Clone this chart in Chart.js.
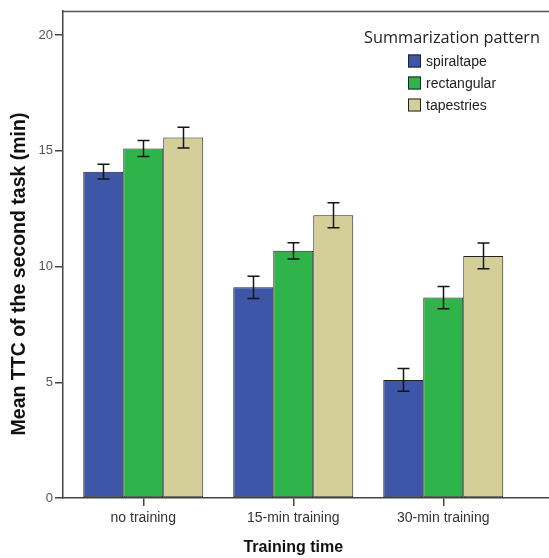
<!DOCTYPE html>
<html>
<head>
<meta charset="utf-8">
<script src="https://cdn.jsdelivr.net/npm/chart.js@4.4.1/dist/chart.umd.min.js"></script>
<style>
  html, body { margin: 0; padding: 0; background: #fff; }
  #wrap { width: 549px; height: 558px; position: relative; }
</style>
</head>
<body>
<div id="wrap"><canvas id="c"></canvas></div>
<script>
// Mean time-to-complete of the second task, by training time and summarization pattern
const categories = ['no training', '15-min training', '30-min training'];
const seriesNames = ['spiraltape', 'rectangular', 'tapestries'];
const spiraltape = [14.1, 9.1, 5.1];
const rectangular = [15.1, 10.68, 8.66];
const tapestries = [15.57, 12.22, 10.46];
// half-widths of the error bars
const spiraltapeErr = [0.32, 0.48, 0.49];
const rectangularErr = [0.35, 0.35, 0.48];
const tapestriesErr = [0.45, 0.54, 0.56];
const yTicks = [0, 5, 10, 15, 20];

const xTitle = 'Training time';
const yTitle = 'Mean TTC of the second task (min)';
const legendTitle = 'Summarization pattern';

const colors = ['#3D56A8', '#2FB34B', '#D4CE98'];
const values = [spiraltape, rectangular, tapestries];
const errors = [spiraltapeErr, rectangularErr, tapestriesErr];

const datasets = seriesNames.map((name, s) => ({
  label: name,
  data: values[s].map((v, i) => ({ x: i, y: v })),
  errors: errors[s],
  backgroundColor: colors[s],
  borderColor: '#222',
  borderWidth: 1,
  borderSkipped: false,
  categoryPercentage: 0.8,
  barPercentage: 1.0
}));

const FONT = '"Liberation Sans", Arial, sans-serif';

const decorations = {
  id: 'decorations',
  afterDatasetsDraw(chart) {
    const ctx = chart.ctx;
    const ys = chart.scales.y;
    ctx.save();
    ctx.strokeStyle = '#151515';
    ctx.lineWidth = 1.5;
    chart.data.datasets.forEach((ds, di) => {
      const meta = chart.getDatasetMeta(di);
      meta.data.forEach((el, j) => {
        const v = ds.data[j].y, e = ds.errors[j];
        const x = Math.round(el.x) + 0.5;
        const y1 = ys.getPixelForValue(v + e);
        const y2 = ys.getPixelForValue(v - e);
        ctx.beginPath();
        ctx.moveTo(x, y1); ctx.lineTo(x, y2);
        ctx.moveTo(x - 6, y1); ctx.lineTo(x + 6, y1);
        ctx.moveTo(x - 6, y2); ctx.lineTo(x + 6, y2);
        ctx.stroke();
      });
    });
    ctx.restore();
  },
  afterDraw(chart) {
    const ctx = chart.ctx;
    const a = chart.chartArea;
    const xs = chart.scales.x;
    ctx.save();
    // top frame line
    ctx.strokeStyle = '#555';
    ctx.lineWidth = 1.5;
    ctx.beginPath();
    ctx.moveTo(a.left, a.top + 0.5);
    ctx.lineTo(chart.width, a.top + 0.5);
    ctx.stroke();

    // axis titles
    ctx.fillStyle = '#111';
    ctx.textAlign = 'center';
    ctx.textBaseline = 'middle';
    ctx.font = 'bold 16px ' + FONT;
    ctx.fillText(xTitle, xs.getPixelForValue(1), 548);
    ctx.save();
    ctx.translate(20, 274);
    ctx.rotate(-Math.PI / 2);
    ctx.font = 'bold 19.5px ' + FONT;
    ctx.fillText(yTitle, 0, 0);
    ctx.restore();

    // legend
    ctx.fillStyle = '#222';
    ctx.font = '16.3px "Open Sans", sans-serif';
    ctx.textAlign = 'center';
    ctx.fillText(legendTitle, 452, 38);
    ctx.font = '14px ' + FONT;
    ctx.textAlign = 'left';
    chart.data.datasets.forEach((ds, i) => {
      const cy = 61 + i * 22;
      ctx.fillStyle = ds.backgroundColor;
      ctx.fillRect(408, cy - 6.5, 13, 13);
      ctx.strokeStyle = '#222';
      ctx.lineWidth = 1;
      ctx.strokeRect(408.5, cy - 6, 12, 12);
      ctx.fillStyle = '#222';
      ctx.fillText(ds.label, 426, cy + 1);
    });
    ctx.restore();
  }
};

new Chart(document.getElementById('c'), {
  type: 'bar',
  data: { datasets },
  options: {
    responsive: true,
    maintainAspectRatio: false,
    animation: false,
    layout: { padding: { left: 0, top: 11, right: 0, bottom: 0 } },
    plugins: { legend: { display: false }, tooltip: { enabled: false } },
    scales: {
      x: {
        type: 'linear',
        min: -0.535,
        max: 2.705,
        offset: false,
        afterBuildTicks(scale) { scale.ticks = categories.map((_, i) => ({ value: i })); },
        afterFit(scale) { scale.height = 60; },
        grid: { offset: false, drawOnChartArea: false, drawTicks: true, tickLength: 8, tickColor: '#444', lineWidth: 1.5 },
        border: { display: true, color: '#444', width: 1.5 },
        ticks: {
          autoSkip: false, maxRotation: 0, padding: 4,
          color: '#333', font: { family: FONT, size: 14 },
          callback: (v) => categories[v]
        }
      },
      y: {
        min: 0,
        max: 21.04,
        afterBuildTicks(scale) { scale.ticks = yTicks.map(v => ({ value: v })); },
        afterFit(scale) { scale.width = 63; },
        grid: { drawOnChartArea: false, drawTicks: true, tickLength: 8, tickColor: '#444', lineWidth: 1.5 },
        border: { display: true, color: '#444', width: 1.5 },
        ticks: { padding: 2, color: '#555', font: { family: FONT, size: 13 } }
      }
    }
  },
  plugins: [decorations]
});
</script>
</body>
</html>
